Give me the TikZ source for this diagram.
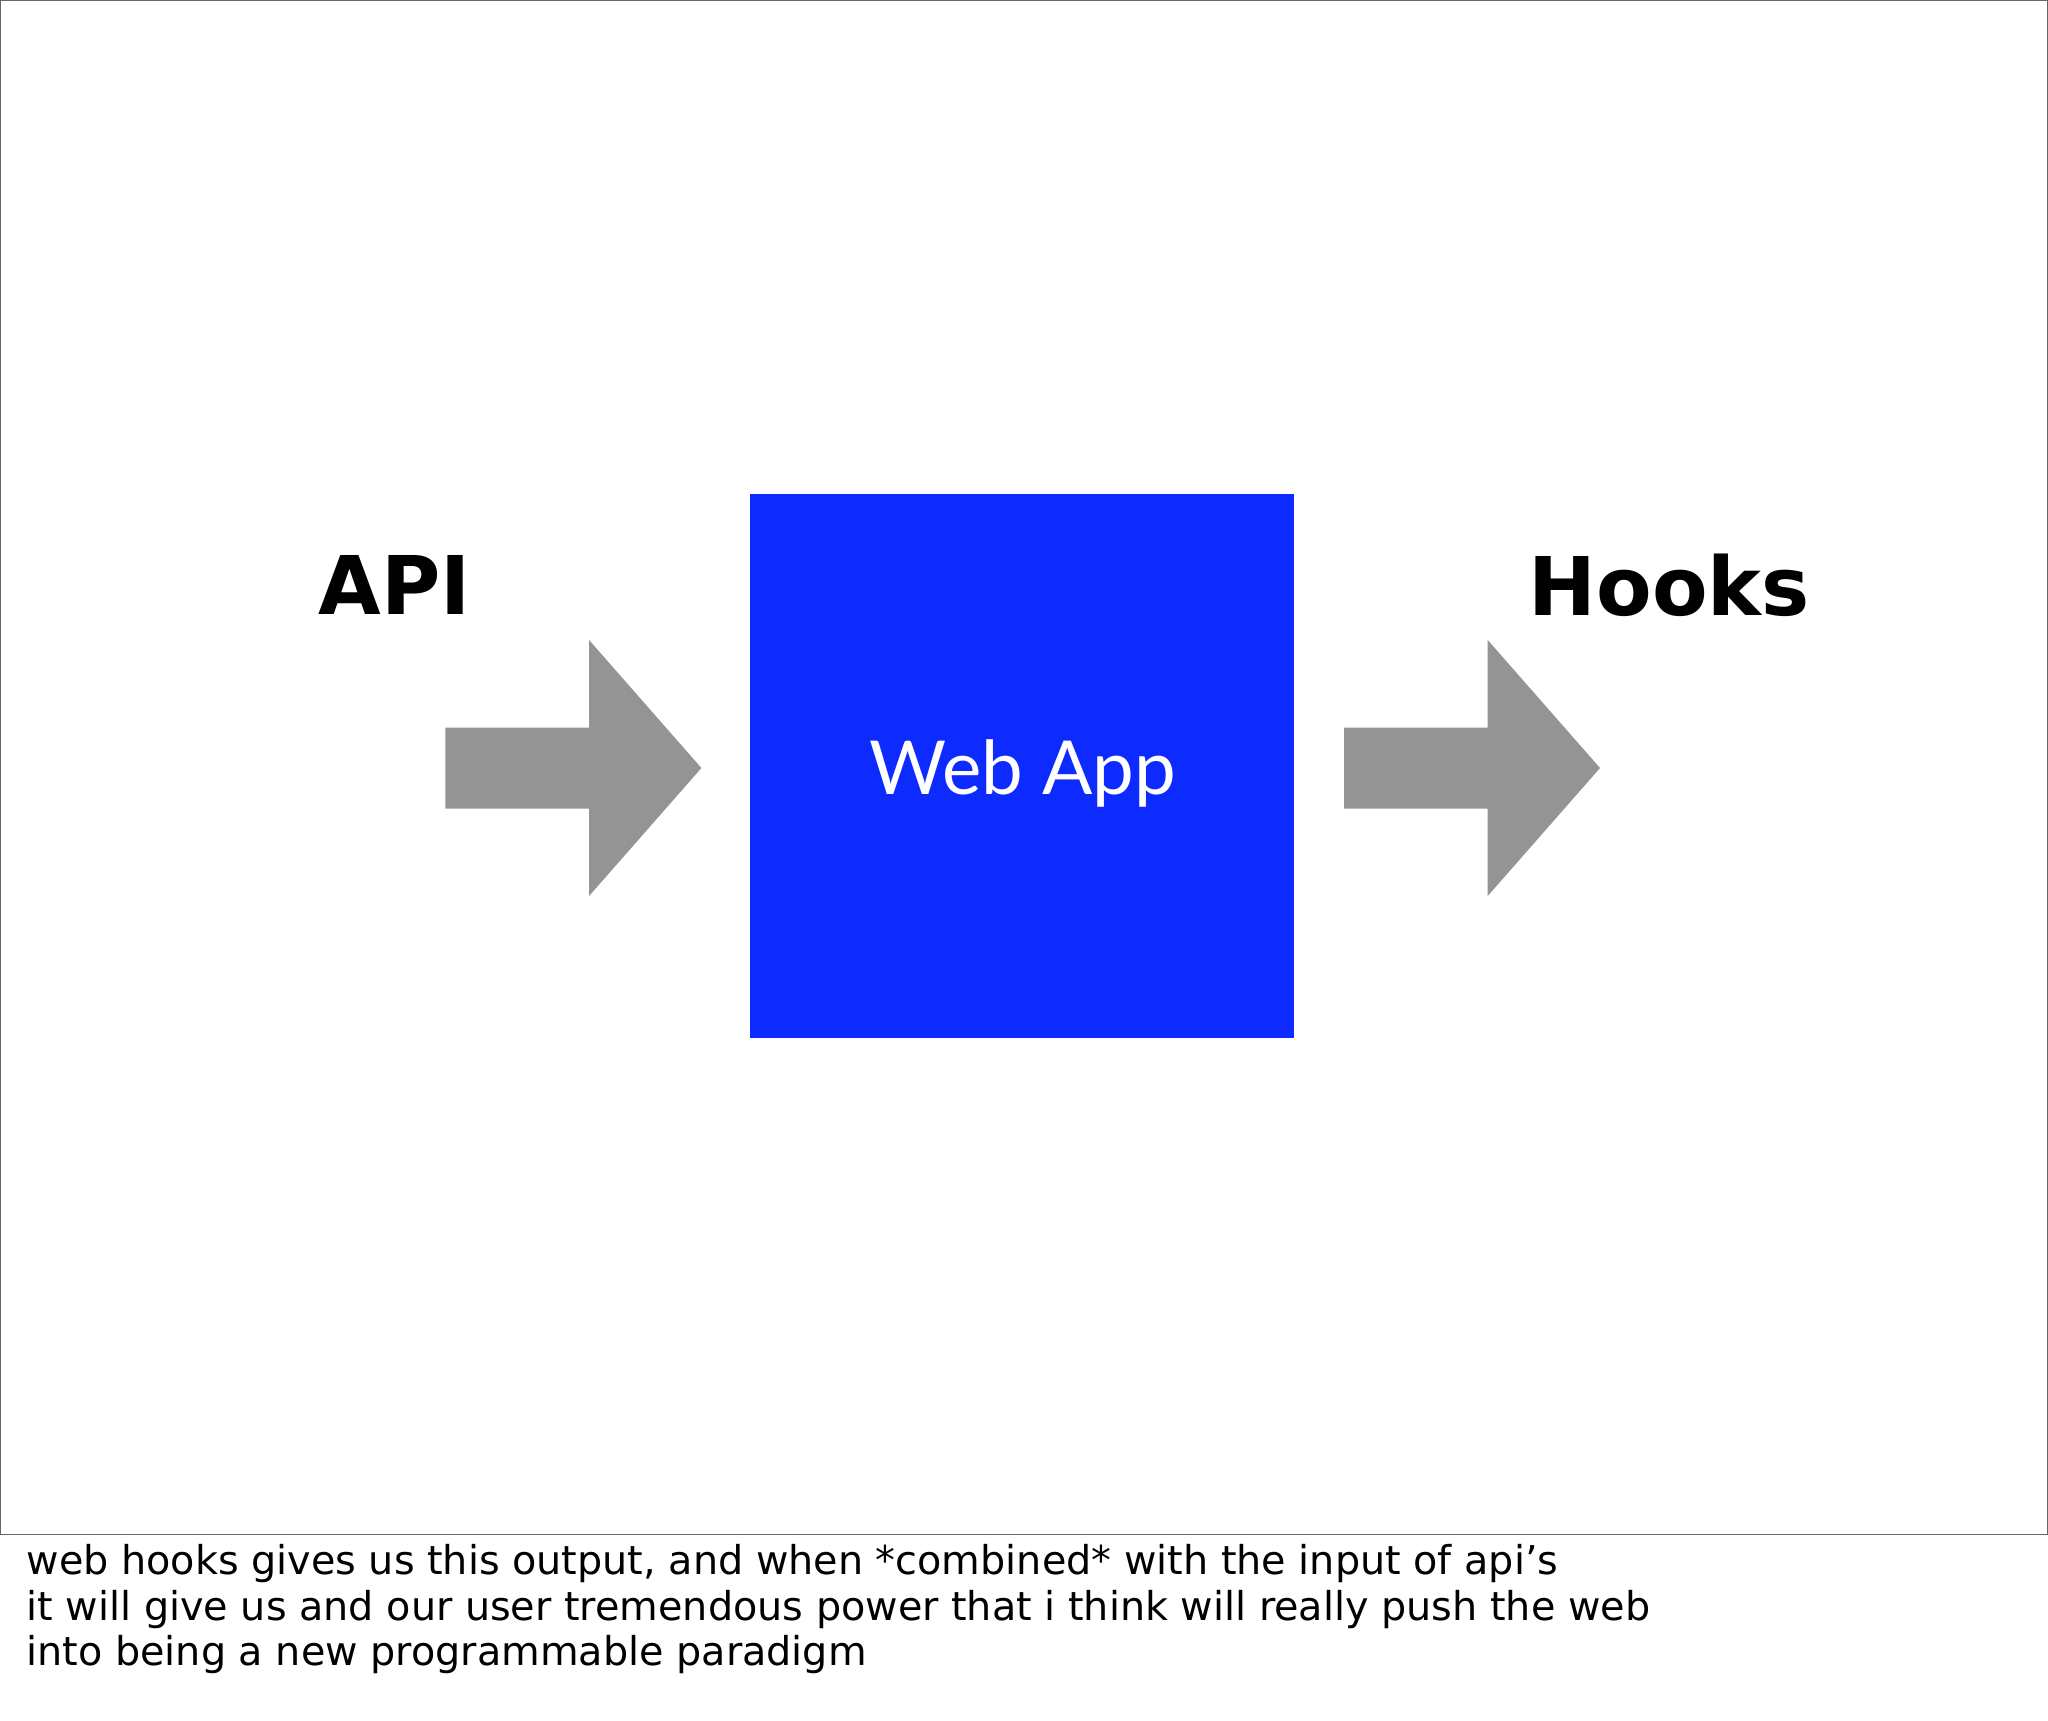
\documentclass[tikz,border=0pt]{standalone}
\usepackage{fontspec}
\setmainfont{DejaVu Sans}
\newfontfamily\lato{Lato}
\definecolor{appblue}{RGB}{13,43,255}
\definecolor{arrgray}{RGB}{148,148,148}
\begin{document}
\begin{tikzpicture}[x=0.5pt,y=-0.5pt,
  bigarrow/.style={fill=arrgray,draw=none},
  title/.style={font=\fontsize{31}{34}\selectfont\bfseries,inner sep=0pt},
  caption/.style={font=\fontsize{15.2}{17.5}\selectfont,align=left,anchor=north west,inner sep=0pt}]
\useasboundingbox (0,0) rectangle (1568,1317);
\fill[white] (0,0) rectangle (1568,1317);
\draw[gray!80!black,line width=0.6pt] (0.5,0.5) rectangle (1567.5,1175);
\node[fill=appblue,minimum width=208.5pt,minimum height=208.5pt,inner sep=0pt] (app) at (782.5,586.5) {};
\node[text=white,font=\lato\fontsize{28.5}{32}\selectfont] at (783,592) {Web App};
\node[title] (api) at (302,448) {API};
\node[title] (hooks) at (1278,448) {Hooks};
\fill[bigarrow] (341,557) -- (451,557) -- (451,490) -- (537,588) -- (451,686) -- (451,619) -- (341,619) -- cycle;
\fill[bigarrow] (1029,557) -- (1139,557) -- (1139,490) -- (1225,588) -- (1139,686) -- (1139,619) -- (1029,619) -- cycle;
\node[caption] (cap) at (20,1182) {web hooks gives us this output, and when *combined* with the input of api’s\\it will give us and our user tremendous power that i think will really push the web\\into being a new programmable paradigm};
\end{tikzpicture}
\end{document}
